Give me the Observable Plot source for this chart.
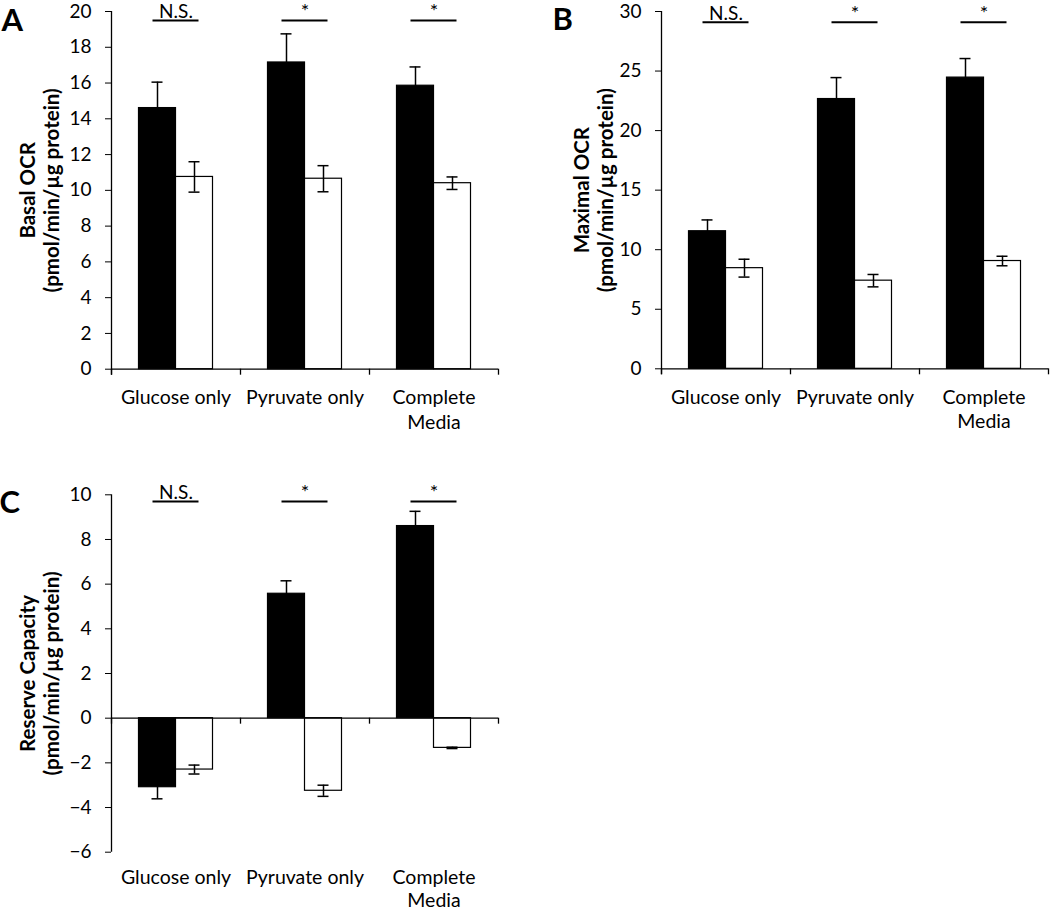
<!DOCTYPE html>
<html><head><meta charset="utf-8">
<script src="https://cdn.jsdelivr.net/npm/d3@7"></script>
<script src="https://cdn.jsdelivr.net/npm/@observablehq/plot@0.6"></script>
<style>
body{margin:0;background:#fff;}
#wrap{position:relative;width:1050px;height:912px;background:#fff;font-family:Lato,sans-serif;}
#wrap svg{position:absolute;}
</style></head><body><div id="wrap"></div>
<script>
const categories = ["Glucose only", "Pyruvate only", "Complete\nMedia"];
const sigLabels = ["N.S.", "*", "*"];

// Panel A: Basal OCR
const basalBlack = [14.6, 17.15, 15.85];
const basalBlackErr = [1.45, 1.6, 1.05];
const basalWhite = [10.75, 10.65, 10.4];
const basalWhiteErr = [0.85, 0.73, 0.35];
const basalTicks = [0, 2, 4, 6, 8, 10, 12, 14, 16, 18, 20];
const basalSig = 19.5;

// Panel B: Maximal OCR
const maxBlack = [11.55, 22.65, 24.45];
const maxBlackErr = [0.95, 1.8, 1.6];
const maxWhite = [8.45, 7.4, 9.05];
const maxWhiteErr = [0.75, 0.52, 0.4];
const maxTicks = [0, 5, 10, 15, 20, 25, 30];
const maxSig = 29.1;

// Panel C: Reserve Capacity
const resBlack = [-3.09, 5.57, 8.6];
const resBlackErr = [0.52, 0.58, 0.66];
const resWhite = [-2.3, -3.25, -1.33];
const resWhiteErr = [0.2, 0.25, 0.03];
const resTicks = [-6, -4, -2, 0, 2, 4, 6, 8, 10];
const resSig = 9.7;

const BAR = 37 / 129;   // bar width as fraction of category band
const CAP = 5.5 / 129;  // half width of error caps
const SIG = 23 / 129;   // half width of significance line
const FONT = "Lato, 'Open Sans', sans-serif";

function panel(o) {
  const rows = [];
  categories.forEach((c, i) => {
    rows.push({cat: c, group: "black", v: o.black[i], e: o.blackErr[i], center: i + 0.5 - BAR / 2});
    rows.push({cat: c, group: "white", v: o.white[i], e: o.whiteErr[i], center: i + 0.5 + BAR / 2});
  });
  const edges = d3.range(categories.length + 1);
  const svg = Plot.plot({
    width: o.width, height: o.height,
    marginLeft: o.ml, marginRight: o.mr, marginTop: o.mt, marginBottom: o.mb,
    style: {fontFamily: FONT, fontSize: "19px", color: "#000", background: "transparent", overflow: "visible"},
    x: {domain: [0, categories.length], axis: null},
    y: {domain: o.domain, axis: null},
    marks: [
      Plot.rect(rows, {x1: d => d.center - BAR / 2, x2: d => d.center + BAR / 2, y1: 0, y2: "v",
        fill: d => d.group === "black" ? "#000" : "#fff", stroke: "#000", strokeWidth: 1.2}),
      Plot.ruleX(rows, {x: "center", y1: d => d.v - d.e, y2: d => d.v + d.e, stroke: "#000", strokeWidth: 1.5}),
      Plot.ruleY(rows, {y: d => d.v + d.e, x1: d => d.center - CAP, x2: d => d.center + CAP, stroke: "#000", strokeWidth: 1.5}),
      Plot.ruleY(rows, {y: d => d.v - d.e, x1: d => d.center - CAP, x2: d => d.center + CAP, stroke: "#000", strokeWidth: 1.5}),
      Plot.ruleY([0], {stroke: "#000", strokeWidth: 1.3}),
      Plot.ruleX([0], {stroke: "#000", strokeWidth: 1.3, insetBottom: o.domain[0] === 0 ? -6 : 0}),
      Plot.ruleX(edges, {x: d => d, y1: 0, y2: 0, insetBottom: -6, stroke: "#000", strokeWidth: 1.3}),
      Plot.axisY({ticks: o.ticks, tickSize: 6, tickPadding: 14, label: null, fontSize: 19}),
      Plot.text(categories, {x: (d, i) => i + 0.5, frameAnchor: "bottom", dy: o.labelDy, lineAnchor: "top", fontSize: 19.5, lineHeight: o.labelLh}),
      Plot.ruleY(sigLabels, {y: o.sig, x1: (d, i) => i + 0.5 - SIG, x2: (d, i) => i + 0.5 + SIG, stroke: "#000", strokeWidth: 2}),
      Plot.text(sigLabels, {x: (d, i) => i + 0.5, y: o.sig, dy: -8.5, fontSize: d => d === "*" ? 20 : 19}),
      Plot.text([o.title], {frameAnchor: "left", textAnchor: "middle", rotate: -90, dx: o.titleDx, fontWeight: "bold", fontSize: 20.5, lineHeight: 1.2}),
      Plot.text([o.letter], {frameAnchor: "top-left", textAnchor: "start", lineAnchor: "top", dx: o.letterDx, dy: o.letterDy, fontSize: 31, fontWeight: "bold"})
    ]
  });
  svg.style.left = o.left + "px";
  svg.style.top = o.top + "px";
  document.getElementById("wrap").appendChild(svg);
}

panel({black: basalBlack, blackErr: basalBlackErr, white: basalWhite, whiteErr: basalWhiteErr,
  domain: [0, 20], ticks: basalTicks, sig: basalSig, title: "Basal OCR\n(pmol/min/µg protein)", letter: "A",
  left: 0, top: 0, width: 530, height: 440, ml: 111, mr: 32, mt: 11, mb: 71.3,
  labelDy: 17, labelLh: 1.28,
  titleDx: -72.3, letterDx: -110, letterDy: -3});

panel({black: maxBlack, blackErr: maxBlackErr, white: maxWhite, whiteErr: maxWhiteErr,
  domain: [0, 30], ticks: maxTicks, sig: maxSig, title: "Maximal OCR\n(pmol/min/µg protein)", letter: "B",
  left: 530, top: 0, width: 520, height: 440, ml: 131, mr: 2, mt: 11, mb: 71.7,
  labelDy: 17, labelLh: 1.28,
  titleDx: -68.3, letterDx: -109, letterDy: -4});

panel({black: resBlack, blackErr: resBlackErr, white: resWhite, whiteErr: resWhiteErr,
  domain: [-6, 10], ticks: resTicks, sig: resSig, title: "Reserve Capacity\n(pmol/min/µg protein)", letter: "C",
  left: 0, top: 440, width: 530, height: 472, ml: 111, mr: 32, mt: 54.3, mb: 60.3,
  labelDy: 15, labelLh: 1.2,
  titleDx: -72.3, letterDx: -112, letterDy: -4});
</script>
</body></html>
